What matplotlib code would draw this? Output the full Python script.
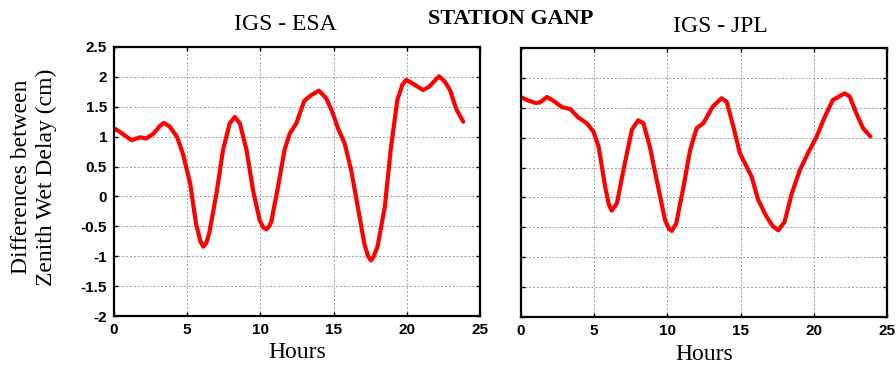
import matplotlib
matplotlib.use("Agg")
import matplotlib.pyplot as plt

# IGS - ESA
esa_h = [0, 0.4, 1.2, 1.8, 2.2, 2.7, 3.1, 3.4, 3.8, 4.3, 4.7, 5.2, 5.6, 5.9, 6.1, 6.3, 6.5, 7.0, 7.45,
         7.9, 8.25, 8.6, 9.05, 9.5, 9.95, 10.2, 10.4, 10.6, 10.75, 11.2, 11.65, 12.0, 12.45, 13.0,
         13.5, 14.0, 14.5, 14.95, 15.3, 15.75, 16.2, 16.65, 17.1, 17.35, 17.55, 17.75, 18.0, 18.5,
         18.9, 19.35, 19.7, 19.95, 20.4, 21.1, 21.5, 22.2, 22.6, 22.95, 23.4, 23.86]
esa_v = [1.14, 1.08, 0.94, 0.99, 0.97, 1.05, 1.17, 1.23, 1.17, 1.0, 0.72, 0.22, -0.45, -0.75, -0.84,
         -0.78, -0.62, 0.05, 0.78, 1.22, 1.33, 1.22, 0.78, 0.1, -0.4, -0.52, -0.55, -0.5, -0.42,
         0.16, 0.78, 1.05, 1.22, 1.6, 1.7, 1.77, 1.64, 1.39, 1.14, 0.89, 0.44, -0.17, -0.79, -1.0,
         -1.07, -1.0, -0.84, -0.17, 0.78, 1.61, 1.87, 1.95, 1.89, 1.78, 1.83, 2.01, 1.92, 1.78,
         1.45, 1.25]

# IGS - JPL
jpl_h = [0, 0.4, 1.0, 1.3, 1.77, 2.2, 2.8, 3.36, 3.9, 4.5, 4.95, 5.3, 5.75, 6.0, 6.2, 6.55, 7.0,
         7.57, 8.0, 8.36, 8.8, 9.27, 9.84, 10.1, 10.3, 10.6, 11.1, 11.55, 12.0, 12.45, 13.1, 13.7,
         14.05, 14.5, 14.95, 15.3, 15.75, 16.2, 16.77, 17.2, 17.57, 18.0, 18.5, 19.05, 19.6, 20.2,
         20.75, 21.3, 22.1, 22.45, 22.9, 23.36, 23.86]
jpl_v = [1.68, 1.63, 1.58, 1.59, 1.68, 1.62, 1.51, 1.48, 1.34, 1.24, 1.1, 0.85, 0.18, -0.12, -0.22,
         -0.1, 0.46, 1.13, 1.29, 1.24, 0.85, 0.29, -0.38, -0.52, -0.56, -0.44, 0.18, 0.79, 1.16,
         1.24, 1.52, 1.66, 1.6, 1.19, 0.74, 0.57, 0.35, -0.04, -0.32, -0.48, -0.55, -0.41, 0.07,
         0.46, 0.74, 1.02, 1.35, 1.63, 1.74, 1.69, 1.41, 1.16, 1.02]

xticks = [0, 5, 10, 15, 20, 25]
yticks = [-2, -1.5, -1, -0.5, 0, 0.5, 1, 1.5, 2, 2.5]
ytick_labels = ["-2", "-1.5", "-1", "-0.5", "0", "0.5", "1", "1.5", "2", "2.5"]

W, H = 896, 367
fig = plt.figure(figsize=(W / 100, H / 100), dpi=100)

serif = "Liberation Serif"
sans = "Liberation Sans"


def make_ax(rect, h, v, show_ylabels):
    ax = fig.add_axes(rect)
    ax.plot(h, v, color="#ff0000", lw=3.0, solid_capstyle="round", solid_joinstyle="round")
    ax.set_xlim(0, 25)
    ax.set_ylim(-2, 2.5)
    ax.set_xticks(xticks)
    ax.set_yticks(yticks)
    ax.set_xticklabels([str(t) for t in xticks], fontfamily=sans, fontweight="bold", fontsize=11)
    if show_ylabels:
        ax.set_yticklabels(ytick_labels, fontfamily=sans, fontweight="bold", fontsize=11)
    else:
        ax.set_yticklabels([])
    ax.tick_params(direction="in", length=3, width=1, top=True, right=True, pad=5)
    ax.grid(True, color="#999999", linestyle=(0, (2, 2)), linewidth=0.7)
    for s in ax.spines.values():
        s.set_linewidth(1.6)
    ax.set_xlabel("Hours", fontfamily=serif, fontsize=17, labelpad=4)
    return ax


ax1 = make_ax([114 / W, 1 - 316 / H, 366 / W, 269 / H], esa_h, esa_v, True)
ax2 = make_ax([521 / W, 1 - 317 / H, 366 / W, 269 / H], jpl_h, jpl_v, False)

fig.text(285 / W, 1 - 24 / H, "IGS - ESA", fontfamily=serif, fontsize=17, ha="center", va="center")
fig.text(720 / W, 1 - 26 / H, "IGS - JPL", fontfamily=serif, fontsize=17, ha="center", va="center")
fig.text(511 / W, 1 - 19 / H, "STATION GANP", fontfamily=serif, fontweight="bold", fontsize=16,
         ha="center", va="center")
fig.text(34 / W, 1 - 177 / H, "Differences between\nZenith Wet Delay (cm)", fontfamily=serif,
         fontsize=17, rotation=90, ha="center", va="center", linespacing=1.2)

fig.savefig("out.png", dpi=100)
